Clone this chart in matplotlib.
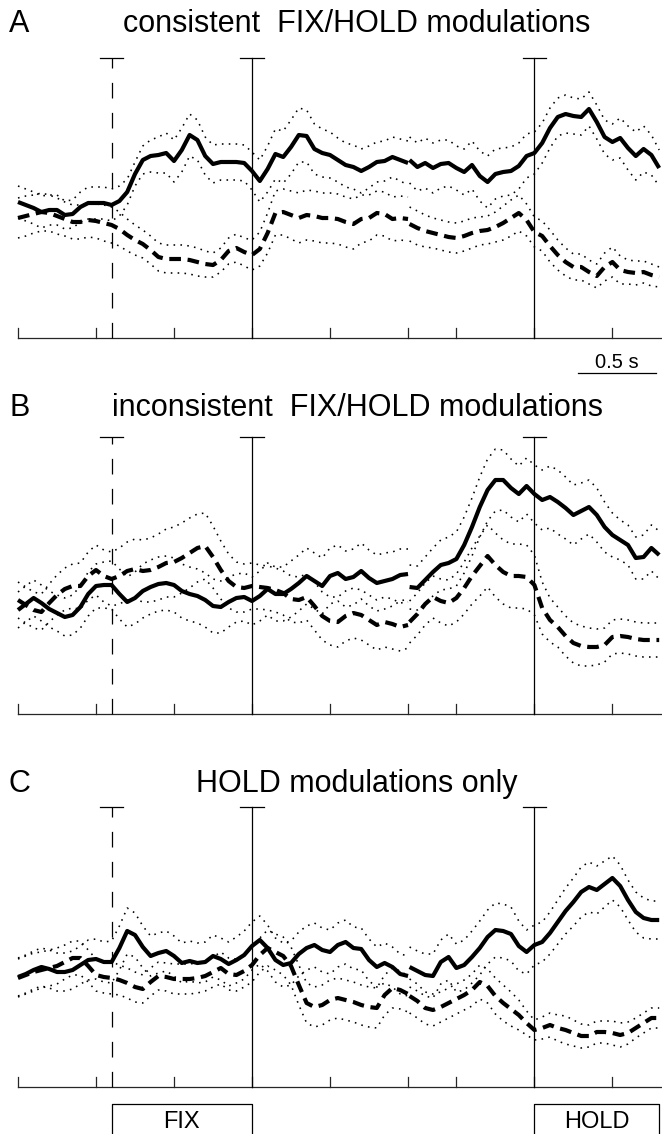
import numpy as np
import matplotlib.pyplot as plt

plt.rcParams['font.family'] = ['Liberation Sans', 'DejaVu Sans']

# time bases (s): epoch 1 aligned on end of FIX, epoch 2 aligned on HOLD onset
t1 = np.round(np.arange(-1.5, 1.001, 0.05), 2)
t2 = np.round(np.arange(-0.8, 0.801, 0.05), 2)
hold_at = 1.81     # position of HOLD onset on the shared time axis
cue_t = -0.9       # dashed marker (start of FIX)
ticks1 = [-1.5, -1.0, -0.5, 0.0, 0.5, 1.0]
ticks2 = [-0.5, 0.0, 0.5]

titles = ['consistent  FIX/HOLD modulations',
          'inconsistent  FIX/HOLD modulations',
          'HOLD modulations only']
letters = ['A', 'B', 'C']

# activity (a.u.), mean and sem; "sol" = solid trace, "das" = dashed trace
A_sol_1 = [136,133,130,126,128,128,123,124,131,135,135,135,133,137,146,164,178,182,183,185,177,188,203,198,182,174,
           176,176,176,175,167,157,169,184,181,191,203,202,189,185,183,178,173,171,167,171,176,177,181,178,175]
A_sol_1_sem = [16,16,16,16,15,15,14,14,15,16,16,16,16,15,13,12,14,16,18,20,21,22,21,20,19,19,
               18,18,18,18,19,21,23,25,26,27,27,26,25,24,23,22,22,22,22,21,20,20,20,21,22]
A_sol_2 = [178,171,175,170,174,175,170,166,173,162,156,164,166,167,172,182,185,195,210,221,224,222,221,229,216,201,
           196,200,190,182,189,183,170]
A_sol_2_sem = [23,24,25,25,24,23,22,23,24,25,26,25,24,24,23,22,21,20,20,19,19,18,18,17,17,17,18,20,22,24,23,20,18]
A_das_1 = [120,122,124,126,125,122,119,116,116,118,117,115,113,109,103,98,94,88,81,79,79,79,78,76,74,73,
           78,87,90,86,83,89,105,125,126,123,120,123,122,120,120,119,116,114,119,120,125,124,119,120,119]
A_das_1_sem = [20,20,19,19,18,18,17,17,17,17,17,18,18,17,16,15,14,14,14,14,14,14,14,14,13,12,
               12,13,14,14,15,17,20,22,23,24,25,25,25,25,25,25,25,25,24,23,22,22,22,22,22]
A_das_2 = [114,110,107,105,103,101,100,102,105,107,108,111,115,120,125,118,106,102,92,83,76,71,71,66,62,71,
           76,68,66,65,66,63,61]
A_das_2_sem = [17,17,16,15,15,15,15,15,15,14,14,15,17,18,18,16,15,15,16,15,14,13,13,12,12,14,15,14,12,12,11,11,10]

B_sol_1 = [104,110,116,111,105,101,97,99,107,120,128,129,129,120,112,116,123,127,130,131,129,123,120,118,114,108,
           107,112,116,117,113,118,125,120,120,125,131,138,133,128,138,141,135,137,143,136,131,133,135,139,140]
B_sol_1_sem = [18,18,18,18,18,18,19,20,21,22,22,23,24,25,25,26,27,27,27,27,27,27,27,27,27,27,
               26,25,24,24,24,25,26,27,27,28,28,28,28,28,28,28,28,28,28,28,28,28,27,26,25]
B_sol_2 = [127,126,134,142,149,151,155,169,187,207,224,234,234,226,220,228,220,214,217,212,206,199,203,207,199,187,
           179,174,169,156,157,166,159]
B_sol_2_sem = [22,22,23,24,25,26,27,28,29,30,31,31,30,29,28,28,29,30,31,32,31,30,28,27,27,25,22,20,20,21,22,23,24]
B_das_1 = [114,109,104,102,111,119,125,128,128,138,144,138,135,138,143,145,143,144,147,151,152,156,161,166,168,157,
           144,133,127,126,128,127,126,124,121,115,114,117,108,98,93,92,98,101,99,94,89,92,90,87,89]
B_das_1_sem = [18,18,18,18,19,20,21,22,23,24,25,26,27,28,29,30,31,32,33,34,35,35,35,34,33,31,
               29,27,25,24,23,22,22,22,22,23,23,23,24,24,24,25,25,25,25,25,25,25,25,24,23]
B_das_2 = [92,100,110,117,113,111,116,126,138,148,158,149,142,138,138,137,129,106,94,87,78,71,68,67,67,69,
           77,78,77,75,74,74,74]
B_das_2_sem = [21,21,21,21,22,23,24,26,28,30,31,32,32,32,32,32,30,26,22,20,20,20,20,19,18,17,17,17,17,17,17,17,17]

C_sol_1 = [110,113,117,120,118,115,115,117,122,127,128,125,125,139,156,152,140,131,134,136,131,124,126,124,125,131,
           128,123,127,132,141,147,139,127,122,124,133,139,142,137,135,142,145,139,138,127,120,124,120,113,111]
C_sol_1_sem = [19,19,19,19,19,19,19,19,19,20,20,20,21,22,23,22,21,20,20,20,20,20,20,20,20,21,
               21,22,23,24,24,24,23,22,22,22,22,22,22,22,22,22,22,21,21,21,20,20,20,20,20]
C_sol_2 = [120,116,112,111,125,130,119,122,130,139,150,157,156,153,141,135,142,145,154,165,176,185,195,200,197,203,
           209,201,187,175,169,167,167]
C_sol_2_sem = [20,20,21,22,22,23,24,25,26,27,27,27,27,27,25,22,20,20,21,22,23,24,25,25,24,23,22,21,20,20,20,19,19]
C_das_1 = [109,112,115,117,119,121,125,129,129,121,112,110,109,107,104,100,98,105,111,110,108,108,108,109,111,115,
           119,113,112,116,122,132,139,135,131,121,102,84,80,82,87,89,87,85,82,80,79,92,99,97,93]
C_das_1_sem = [19,19,19,18,18,18,17,17,17,16,16,16,16,15,15,15,14,14,14,14,15,15,15,15,15,15,
               16,16,16,16,17,17,18,18,19,19,20,20,20,20,20,20,20,20,20,20,20,20,20,19,18]
C_das_2 = [91,86,79,77,80,84,88,92,97,105,101,91,84,78,72,64,57,59,62,59,57,54,51,51,55,55,54,52,54,59,64,69,69]
C_das_2_sem = [17,17,16,16,15,15,15,15,16,17,17,18,18,17,15,12,10,11,12,13,14,13,12,11,11,11,12,12,11,10,10,10,10]

panels = [
    (A_sol_1, A_sol_1_sem, A_sol_2, A_sol_2_sem, A_das_1, A_das_1_sem, A_das_2, A_das_2_sem),
    (B_sol_1, B_sol_1_sem, B_sol_2, B_sol_2_sem, B_das_1, B_das_1_sem, B_das_2, B_das_2_sem),
    (C_sol_1, C_sol_1_sem, C_sol_2, C_sol_2_sem, C_das_1, C_das_1_sem, C_das_2, C_das_2_sem),
]

# layout in pixels of the 662x1134 image
W, H = 662, 1134
base_px = [338, 714, 1087]     # x-axis line of each panel
top_px = [58, 437, 807]        # top of the event markers
xmin, xmax = -1.5, 2.628

fig = plt.figure(figsize=(W / 100, H / 100), dpi=100, facecolor='white')


def trace(ax, m1, s1, m2, s2, dashed):
    for x, m, s in ((t1, m1, s1), (t2 + hold_at, m2, s2)):
        m = np.asarray(m, float)
        s = np.asarray(s, float)
        for band in (m + s, m - s):
            ax.plot(x, band, color='k', lw=1.15, linestyle=(0, (1, 3.3)), clip_on=False)
        if dashed:
            ax.plot(x, m, color='k', lw=3.0, linestyle=(0, (2.8, 1.6)), clip_on=False)
        else:
            ax.plot(x, m, color='k', lw=3.0, solid_joinstyle='round', solid_capstyle='butt', clip_on=False)


axes = []
for i in range(3):
    b, tp = base_px[i], top_px[i]
    top = b - tp
    ax = fig.add_axes([18 / W, 1 - b / H, (W - 18) / W, top / H])
    ax.set_xlim(xmin, xmax)
    ax.set_ylim(0, top)
    ax.axis('off')
    axes.append(ax)

    sol1, sols1, sol2, sols2, das1, dass1, das2, dass2 = panels[i]
    trace(ax, das1, dass1, das2, dass2, dashed=True)
    trace(ax, sol1, sols1, sol2, sols2, dashed=False)

    # time axis and ticks
    ax.plot([xmin, xmax], [0, 0], color='0.15', lw=0.9, clip_on=False)
    for x in ticks1 + [hold_at + v for v in ticks2]:
        ax.plot([x, x], [0, 10], color='0.15', lw=0.9, clip_on=False)

    # event markers with a cap on top
    ax.plot([cue_t, cue_t], [0, top], color='k', lw=0.9, linestyle=(0, (12.5, 11.5)), clip_on=False)
    for x in (cue_t, 0.0, hold_at):
        if x != cue_t:
            ax.plot([x, x], [0, top], color='k', lw=0.9, clip_on=False)
        ax.plot([x - 0.075, x + 0.075], [top, top], color='k', lw=0.9, clip_on=False)

# panel letters and titles
title_base = [32, 416, 792]
for i in range(3):
    fig.text(9 / W, 1 - title_base[i] / H, letters[i], fontsize=22, ha='left', va='baseline')
    fig.text(357 / W, 1 - title_base[i] / H, titles[i], fontsize=22, ha='center', va='baseline')

# 0.5 s scale bar under panel A
axA = axes[0]
bar_x0 = (578 - 252) / 156
axA.plot([bar_x0, bar_x0 + 0.5], [-35, -35], color='k', lw=0.9, clip_on=False)
axA.text(bar_x0 + 0.25, -30, '0.5 s', fontsize=14.5, ha='center', va='baseline')

# FIX / HOLD epochs under panel C
axC = axes[2]
axC.plot([cue_t, cue_t, 0, 0], [-60, -17, -17, -60], color='k', lw=0.9, clip_on=False)
axC.plot([hold_at, hold_at, 2.609, 2.609], [-60, -17, -17, -60], color='k', lw=0.9, clip_on=False)
axC.text(cue_t / 2, -41, 'FIX', fontsize=17, ha='center', va='baseline')
axC.text((hold_at + 2.609) / 2, -41, 'HOLD', fontsize=17, ha='center', va='baseline')

fig.savefig('out.png', dpi=100, facecolor='white')
